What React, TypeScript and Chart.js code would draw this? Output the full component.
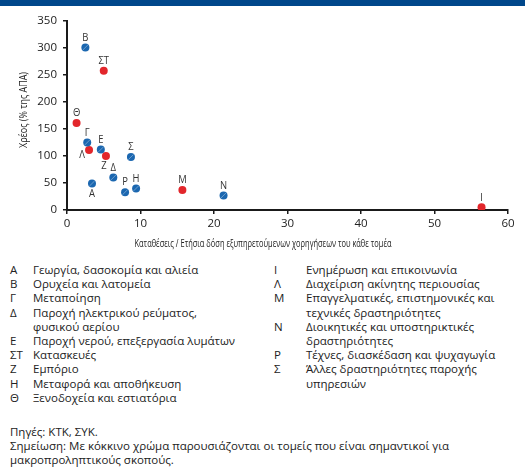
import React, { useEffect, useRef } from 'react';
import { Chart, registerables } from 'chart.js';

Chart.register(...registerables);

// ---------- DATA ----------
const sectorCodes = ['Α', 'Β', 'Γ', 'Δ', 'Ε', 'ΣΤ', 'Ζ', 'Η', 'Θ', 'Ι', 'Λ', 'Μ', 'Ν', 'Ρ', 'Σ'];
const sectorNames = [
  'Γεωργία, δασοκομία και αλιεία',
  'Ορυχεία και λατομεία',
  'Μεταποίηση',
  'Παροχή ηλεκτρικού ρεύματος,\nφυσικού αερίου',
  'Παροχή νερού, επεξεργασία λυμάτων',
  'Κατασκευές',
  'Εμπόριο',
  'Μεταφορά και αποθήκευση',
  'Ξενοδοχεία και εστιατόρια',
  'Ενημέρωση και επικοινωνία',
  'Διαχείριση ακίνητης περιουσίας',
  'Επαγγελματικές, επιστημονικές και\nτεχνικές δραστηριότητες',
  'Διοικητικές και υποστηρικτικές\nδραστηριότητες',
  'Τέχνες, διασκέδαση και ψυχαγωγία',
  'Άλλες δραστηριότητες παροχής\nυπηρεσιών',
];
// x: deposits / annual instalment of performing loans
const depositsRatio = [3.4, 2.5, 2.75, 6.3, 4.6, 5.0, 5.3, 9.4, 1.3, 56.4, 3.0, 15.7, 21.3, 7.9, 8.7];
// y: debt (% of GVA)
const debtPctGva = [49, 301, 125, 60, 112, 258, 100, 40, 161, 5, 111, 37, 27, 33, 98];
// sectors significant for macroprudential purposes (red)
const macroSignificant = [false, false, false, false, false, true, true, false, true, true, true, true, false, false, false];

const xTickValues = [0, 10, 20, 30, 40, 50, 60];
const yTickValues = [0, 50, 100, 150, 200, 250, 300, 350];

const xTitle = 'Καταθέσεις / Ετήσια δόση εξυπηρετούμενων χορηγήσεων του κάθε τομέα';
const yTitle = 'Χρέος (% της ΑΠΑ)';
const sourceNote = 'Πηγές: ΚΤΚ, ΣΥΚ.';
const footNote = 'Σημείωση: Με κόκκινο χρώμα παρουσιάζονται οι τομείς που είναι σημαντικοί για\nμακροπροληπτικούς σκοπούς.';

const leftColumnCount = 9;

// ---------- STYLE ----------
const BLUE = '#1b67b0';
const RED = '#e2262b';
const TEXT = '#222222';
const AXIS = '#1a1a1a';
const FONT = '"Open Sans", "Noto Sans", sans-serif';

const labelOffsets: Record<string, [number, number]> = {
  'Λ': [-7, 5],
  'Ζ': [-2, 10],
  'Α': [0, 10],
};

const pointLabelPlugin = {
  id: 'pointLabels',
  afterDatasetsDraw(chart: any) {
    const ctx = chart.ctx;
    ctx.save();
    // faint highlight stroke on blue markers
    const blueMeta = chart.getDatasetMeta(0);
    ctx.strokeStyle = 'rgba(255,255,255,0.35)';
    ctx.lineWidth = 1;
    blueMeta.data.forEach((el: any) => {
      ctx.beginPath();
      ctx.moveTo(el.x - 2.6, el.y + 2.6);
      ctx.lineTo(el.x + 2.6, el.y - 2.6);
      ctx.stroke();
    });
    ctx.fillStyle = '#333333';
    ctx.font = `11.5px ${FONT}`;
    ctx.textAlign = 'center';
    ctx.textBaseline = 'middle';
    chart.data.datasets.forEach((ds: any, di: number) => {
      const meta = chart.getDatasetMeta(di);
      meta.data.forEach((el: any, i: number) => {
        const code = ds.data[i].code;
        const off = labelOffsets[code] || [0, -10];
        ctx.save();
        ctx.translate(el.x + off[0], el.y + off[1]);
        ctx.scale(0.82, 1);
        ctx.fillText(code, 0, 0);
        ctx.restore();
      });
    });
    ctx.restore();
  },
};

const axisTitlePlugin = {
  id: 'axisTitles',
  afterDraw(chart: any) {
    const ctx = chart.ctx;
    ctx.save();
    ctx.fillStyle = TEXT;
    ctx.font = `10.5px ${FONT}`;
    ctx.textAlign = 'center';
    ctx.textBaseline = 'middle';
    // x title
    const wx = ctx.measureText(xTitle).width;
    ctx.save();
    ctx.translate(263, 244);
    ctx.scale(257 / wx, 1);
    ctx.fillText(xTitle, 0, 0);
    ctx.restore();
    // y title
    const wy = ctx.measureText(yTitle).width;
    ctx.save();
    ctx.translate(24, 110);
    ctx.rotate(-Math.PI / 2);
    ctx.scale(76 / wy, 1);
    ctx.fillText(yTitle, 0, 0);
    ctx.restore();
    ctx.restore();
  },
};

function ChartCanvas() {
  const ref = useRef<HTMLCanvasElement>(null);
  useEffect(() => {
    if (!ref.current) return;
    const points = sectorCodes.map((code, i) => ({ x: depositsRatio[i], y: debtPctGva[i], code }));
    const blue = points.filter((_, i) => !macroSignificant[i]);
    const red = points.filter((_, i) => macroSignificant[i]);
    const chart = new Chart(ref.current, {
      type: 'scatter',
      data: {
        datasets: [
          { label: 'other', data: blue, backgroundColor: BLUE, borderWidth: 0, pointRadius: 4 },
          { label: 'macro', data: red, backgroundColor: RED, borderWidth: 0, pointRadius: 4 },
        ],
      },
      options: {
        animation: false,
        responsive: false,
        maintainAspectRatio: false,
        layout: { padding: { left: 0, right: 17, top: 21, bottom: 0 } },
        plugins: { legend: { display: false }, tooltip: { enabled: false }, title: { display: false } },
        scales: {
          x: {
            type: 'linear',
            min: 0,
            max: 60,
            afterFit: (s: any) => { s.height = 45; },
            afterBuildTicks: (s: any) => { s.ticks = xTickValues.map((v) => ({ value: v })); },
            ticks: { color: TEXT, font: { family: FONT, size: 11.5 }, padding: 3, maxRotation: 0 },
            grid: { display: true, drawOnChartArea: false, drawTicks: true, tickLength: 4, color: AXIS, lineWidth: 1.5 },
            border: { display: true, color: AXIS, width: 2 },
          },
          y: {
            type: 'linear',
            min: 0,
            max: 350,
            afterFit: (s: any) => { s.width = 67; },
            afterBuildTicks: (s: any) => { s.ticks = yTickValues.map((v) => ({ value: v })); },
            ticks: { color: TEXT, font: { family: FONT, size: 11.5 }, padding: 6 },
            grid: { display: true, drawOnChartArea: false, drawTicks: true, tickLength: 4, color: AXIS, lineWidth: 1.5 },
            border: { display: true, color: AXIS, width: 2 },
          },
        },
      },
      plugins: [pointLabelPlugin, axisTitlePlugin],
    } as any);
    return () => chart.destroy();
  }, []);
  return <canvas ref={ref} width={525} height={255} style={{ position: 'absolute', left: 0, top: 0, width: 525, height: 255 }} />;
}

function LegendColumn({ start, end, left, codeWidth }: { start: number; end: number; left: number; codeWidth: number }) {
  const rows = [];
  for (let i = start; i < end; i++) {
    rows.push(
      <div key={i} style={{ display: 'flex' }}>
        <span style={{ width: codeWidth, flex: 'none' }}>{sectorCodes[i]}</span>
        <span style={{ whiteSpace: 'pre' }}>{sectorNames[i]}</span>
      </div>
    );
  }
  return <div style={{ position: 'absolute', left, top: 263 }}>{rows}</div>;
}

export default function App() {
  return (
    <div
      style={{
        position: 'absolute', left: 0, top: 0, width: 525, height: 468, background: '#fff', overflow: 'hidden',
        fontFamily: FONT, fontSize: 11.5, lineHeight: '14.2px', color: TEXT,
      }}
    >
      <ChartCanvas />
      <div style={{ position: 'absolute', left: 0, top: 0, width: 525, height: 6, background: '#00478b' }} />
      <LegendColumn start={0} end={leftColumnCount} left={10} codeWidth={23} />
      <LegendColumn start={leftColumnCount} end={sectorCodes.length} left={274} codeWidth={32} />
      <div style={{ position: 'absolute', left: 10, top: 424.6, whiteSpace: 'pre' }}>
        {sourceNote + '\n' + footNote}
      </div>
    </div>
  );
}
